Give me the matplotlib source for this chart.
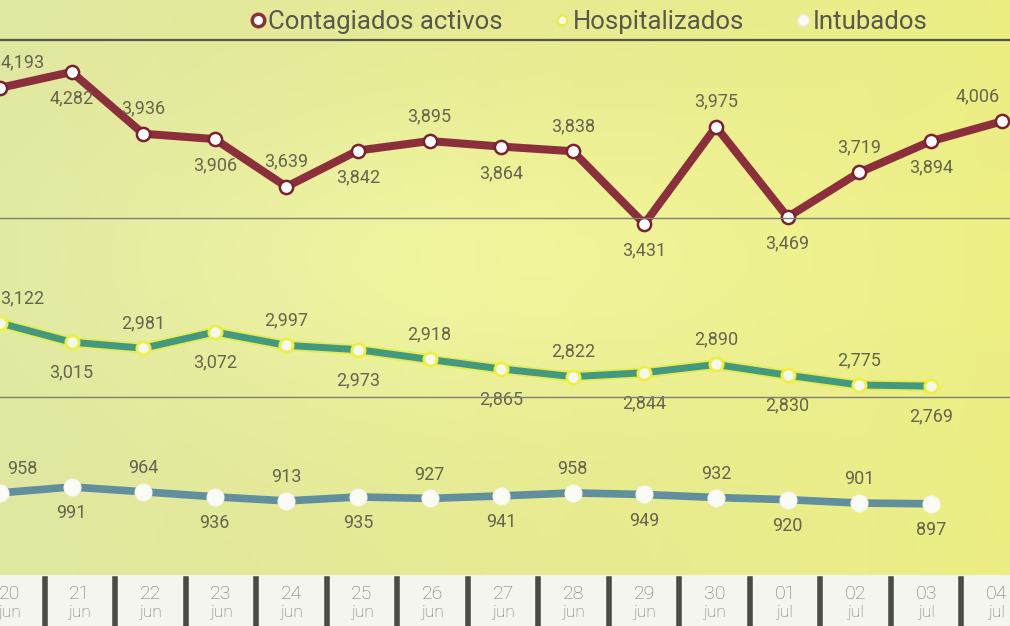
import matplotlib.pyplot as plt
import numpy as np
from matplotlib.lines import Line2D
import matplotlib.patheffects as pe

plt.rcParams['font.family'] = ['Roboto', 'DejaVu Sans']

days = ['20', '21', '22', '23', '24', '25', '26', '27', '28', '29', '30', '01', '02', '03', '04']
months = ['jun'] * 11 + ['jul'] * 4
contagiados = [4193, 4282, 3936, 3906, 3639, 3842, 3895, 3864, 3838, 3431, 3975, 3469, 3719, 3894, 4006]
hospitalizados = [3122, 3015, 2981, 3072, 2997, 2973, 2918, 2865, 2822, 2844, 2890, 2830, 2775, 2769]
intubados = [958, 991, 964, 936, 913, 935, 927, 941, 958, 949, 932, 920, 901, 897]
series_names = ['Contagiados activos', 'Hospitalizados', 'Intubados']

W, H = 1010, 626
fig = plt.figure(figsize=(W / 100, H / 100), dpi=100)


def fy(px):
    return 1 - px / H


# background gradient (pale yellow-green)
bg = fig.add_axes([0, fy(575), 1, 575 / H], zorder=-10)
left = np.array([224, 231, 160]) / 255
right = np.array([236, 238, 132]) / 255
gx = np.linspace(0, 1, 200)[None, :, None]
gy = np.linspace(0, 1, 100)[:, None, None]
img = left * (1 - gx) + right * gx
light = np.exp(-((gy - 0.45) ** 2) / 0.08) * np.exp(-((gx - 0.45) ** 2) / 0.15)
img = img + light * 0.04
bg.imshow(np.clip(img, 0, 1), aspect='auto', extent=[0, 1, 0, 1], origin='upper')
bg.set_axis_off()

# bottom strip
strip = fig.add_axes([0, 0, 1, 51 / H])
strip.set_facecolor('#f5f5f0')
strip.set_xlim(-0.135, 14.19)
strip.set_ylim(0, 1)
for sp in strip.spines.values():
    sp.set_visible(False)
strip.set_xticks([])
strip.set_yticks([])
for i, (d, m) in enumerate(zip(days, months)):
    strip.text(i, 0.63, d, ha='center', va='center', fontsize=14, color='#747470', fontweight='light')
    strip.text(i, 0.26, m, ha='center', va='center', fontsize=12.5, color='#747470', fontweight='light')
for i in range(len(days) - 1):
    strip.axvline(i + 0.5, ymin=0, ymax=0.93, color='#4a4a46', lw=4)

x_all = np.arange(len(days))
xlim = (0, W / 71.6)

bands = [(40, 218, (3464, 4461)), (218, 397, (2708, 3710)), (397, 575, (498, 1495))]
axes = []
for t, b, yl in bands:
    a = fig.add_axes([0, fy(b), 1, (b - t) / H])
    a.set_xlim(*xlim)
    a.set_ylim(*yl)
    a.set_axis_off()
    a.patch.set_alpha(0)
    axes.append(a)

# separators
fig.add_artist(Line2D([0, 1], [fy(40), fy(40)], color='#55554a', lw=1.6))
fig.add_artist(Line2D([0, 1], [fy(218), fy(218)], color='#808070', lw=1.0))
fig.add_artist(Line2D([0, 1], [fy(397), fy(397)], color='#808070', lw=1.0))

lab_color = '#66664f'

# Contagiados
a1 = axes[0]
a1.plot(x_all, contagiados, color='#8c2f3c', lw=5.8, solid_capstyle='round', clip_on=False, zorder=3)
a1.plot(x_all, contagiados, ls='none', marker='o', ms=9.5, mfc='white', mec='#7a2232', mew=1.8, clip_on=False, zorder=4)

# Hospitalizados
a2 = axes[1]
x_h = x_all[:len(hospitalizados)]
a2.plot(x_h, hospitalizados, color='#43997f', lw=5, clip_on=False, zorder=3,
        path_effects=[pe.Stroke(linewidth=7.5, foreground='#e4ec52'), pe.Normal()])
a2.plot(x_h, hospitalizados, ls='none', marker='o', ms=9.5, mfc='#f4f8f0', mec='#eef040', mew=2, clip_on=False, zorder=4)

# Intubados
a3 = axes[2]
x_i = x_all[:len(intubados)]
a3.plot(x_i, intubados, color='#628f9e', lw=5.5, clip_on=False, zorder=3)
a3.plot(x_i, intubados, ls='none', marker='o', ms=12, mfc='#fbfbf6', mec='#f6f6f0', mew=1, clip_on=False, zorder=4)


def label_series(ax, xs, vals, up_off=18, dn_off=20):
    for i, v in zip(xs, vals):
        dy = up_off if i % 2 == 0 else -dn_off
        dx = 0
        if i == 0:
            dx = 16
        if i == 14:
            dx = -18
        ax.annotate(f'{v:,}', (i, v), xytext=(dx, dy), textcoords='offset points',
                    ha='center', va='center', fontsize=13, color=lab_color,
                    annotation_clip=False, zorder=5)


label_series(a1, x_all, contagiados, 18, 19)
label_series(a2, x_h, hospitalizados, 18, 22)
label_series(a3, x_i, intubados, 17, 19)

# legend
handles = [
    Line2D([], [], ls='none', marker='o', ms=9, mfc='white', mec='#8c2f3c', mew=2.5),
    Line2D([], [], ls='none', marker='o', ms=7, mfc='#f4f8f0', mec='#e8ee40', mew=1.5),
    Line2D([], [], ls='none', marker='o', ms=8, mfc='#fbfbf6', mec='#eeeee6', mew=1),
]
fig.legend(handles, series_names, loc='center', bbox_to_anchor=(588 / W, fy(22)), ncol=3,
           frameon=False, fontsize=18.5, handletextpad=0.0, columnspacing=1.9,
           handlelength=0.8, labelcolor='#58584c', borderaxespad=0)

fig.savefig('out.png', dpi=100)
